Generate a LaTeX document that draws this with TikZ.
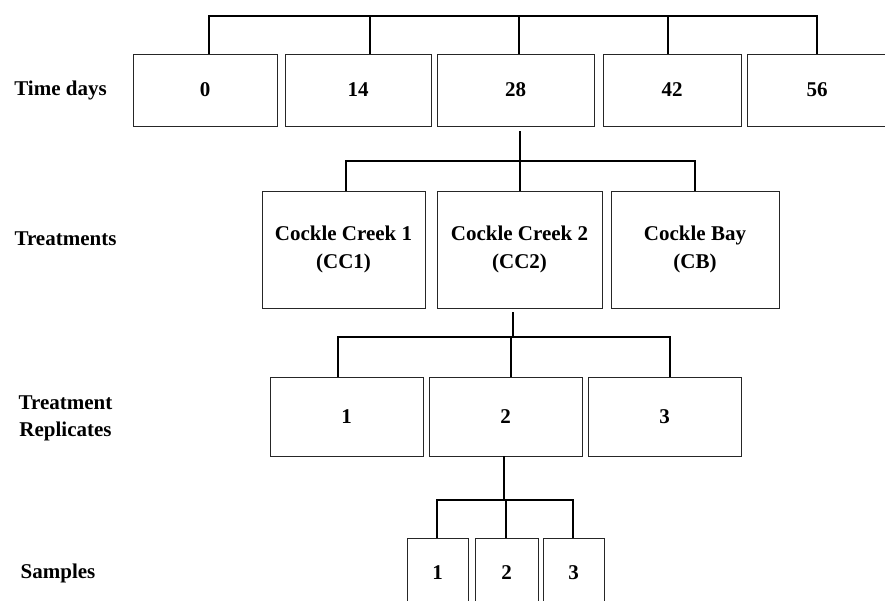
\documentclass[tikz,border=0pt]{standalone}
\usepackage{fontspec}
\setmainfont{Liberation Serif}
\usepackage{tikz}
\usetikzlibrary{positioning}

\begin{document}
\begin{tikzpicture}[
  x=1pt, y=-1pt,
  font=\fontsize{21}{28}\selectfont\bfseries,
  line/.style={line width=2pt, draw=black, line join=miter},
  timebox/.style={draw=black!85, line width=0.9pt, align=center, inner sep=0pt, minimum height=72pt},
  treatbox/.style={draw=black!85, line width=0.9pt, align=center, inner sep=0pt, minimum height=117pt},
  repbox/.style={draw=black!85, line width=0.9pt, align=center, inner sep=0pt, minimum height=79pt},
  samplebox/.style={draw=black!85, line width=0.9pt, align=center, inner sep=0pt, minimum height=70pt},
  levellabel/.style={align=center, inner sep=0pt, font=\fontsize{21}{27}\selectfont\bfseries}
]
\useasboundingbox (0,0) rectangle (885,601);

% ========== LEFT: level labels ==========
\node[levellabel] (lbltime)  at (60.5,90)  {Time days};
\node[levellabel] (lbltreat) at (65.5,239) {Treatments};
\node[levellabel] (lblrep)   at (65.5,418.5) {Treatment\\Replicates};
\node[levellabel] (lblsamp)  at (58,573)   {Samples};

% ========== Time days ==========
\node[timebox, minimum width=144pt] (t0)  at (205,90)   {0};
\node[timebox, minimum width=146pt] (t14) at (358,90)   {14};
\node[timebox, minimum width=157pt] (t28) at (515.5,90) {28};
\node[timebox, minimum width=138pt] (t42) at (672,90)   {42};
\node[timebox, minimum width=140pt] (t56) at (817,90)   {56};

% ========== Treatments ==========
\node[treatbox, minimum width=163pt] (cc1) at (343.5,249.5) {Cockle Creek 1\\(CC1)};
\node[treatbox, minimum width=165pt] (cc2) at (519.5,249.5) {Cockle Creek 2\\(CC2)};
\node[treatbox, minimum width=168pt] (cb)  at (695,249.5)   {Cockle Bay\\(CB)};

% ========== Treatment replicates ==========
\node[repbox, minimum width=153pt] (r1) at (346.5,416.5) {1};
\node[repbox, minimum width=153pt] (r2) at (505.5,416.5) {2};
\node[repbox, minimum width=153pt] (r3) at (664.5,416.5) {3};

% ========== Samples ==========
\node[samplebox, minimum width=61pt] (s1) at (437.5,573) {1};
\node[samplebox, minimum width=63pt] (s2) at (506.5,573) {2};
\node[samplebox, minimum width=61pt] (s3) at (573.5,573) {3};

% -----------------------------
% Tree connectors (bus + drops)
% -----------------------------
\coordinate (topbus)   at (0,16);
\coordinate (treatbus) at (0,161);
\coordinate (repbus)   at (0,337);
\coordinate (sampbus)  at (0,500);

% ===== top bus -> time boxes =====
\draw[line] ([xshift=4pt]t0.north) -- ([xshift=4pt]t0.north |- topbus) -- (t56.north |- topbus) -- (t56.north);
\foreach \n/\dx in {t14/12, t28/3.5, t42/-4}
  \draw[line] ([xshift=\dx pt]\n.north) -- ([xshift=\dx pt]\n.north |- topbus);

% ===== 28 -> treatments =====
\draw[line, shorten <=5pt] ([xshift=4.5pt]t28.south) -- ([xshift=4.5pt]t28.south |- treatbus);
\draw[line] ([xshift=2.5pt]cc1.north) -- ([xshift=2.5pt]cc1.north |- treatbus) -- (cb.north |- treatbus) -- (cb.north);
\draw[line] ([xshift=0.5pt]cc2.north) -- ([xshift=0.5pt]cc2.north |- treatbus);

% ===== CC2 -> replicates =====
\draw[line, shorten <=4pt] ([xshift=-6.5pt]cc2.south) -- ([xshift=-6.5pt]cc2.south |- repbus);
\draw[line] ([xshift=-8.5pt]r1.north) -- ([xshift=-8.5pt]r1.north |- repbus) -- ([xshift=5.5pt]r3.north |- repbus) -- ([xshift=5.5pt]r3.north);
\draw[line] ([xshift=5.5pt]r2.north) -- ([xshift=5.5pt]r2.north |- repbus);

% ===== replicate 2 -> samples =====
\draw[line] ([xshift=-1.5pt]r2.south) -- ([xshift=-1.5pt]r2.south |- sampbus);
\draw[line] ([xshift=-0.5pt]s1.north) -- ([xshift=-0.5pt]s1.north |- sampbus) -- ([xshift=-0.5pt]s3.north |- sampbus) -- ([xshift=-0.5pt]s3.north);
\draw[line] ([xshift=-0.5pt]s2.north) -- ([xshift=-0.5pt]s2.north |- sampbus);

\end{tikzpicture}
\end{document}
